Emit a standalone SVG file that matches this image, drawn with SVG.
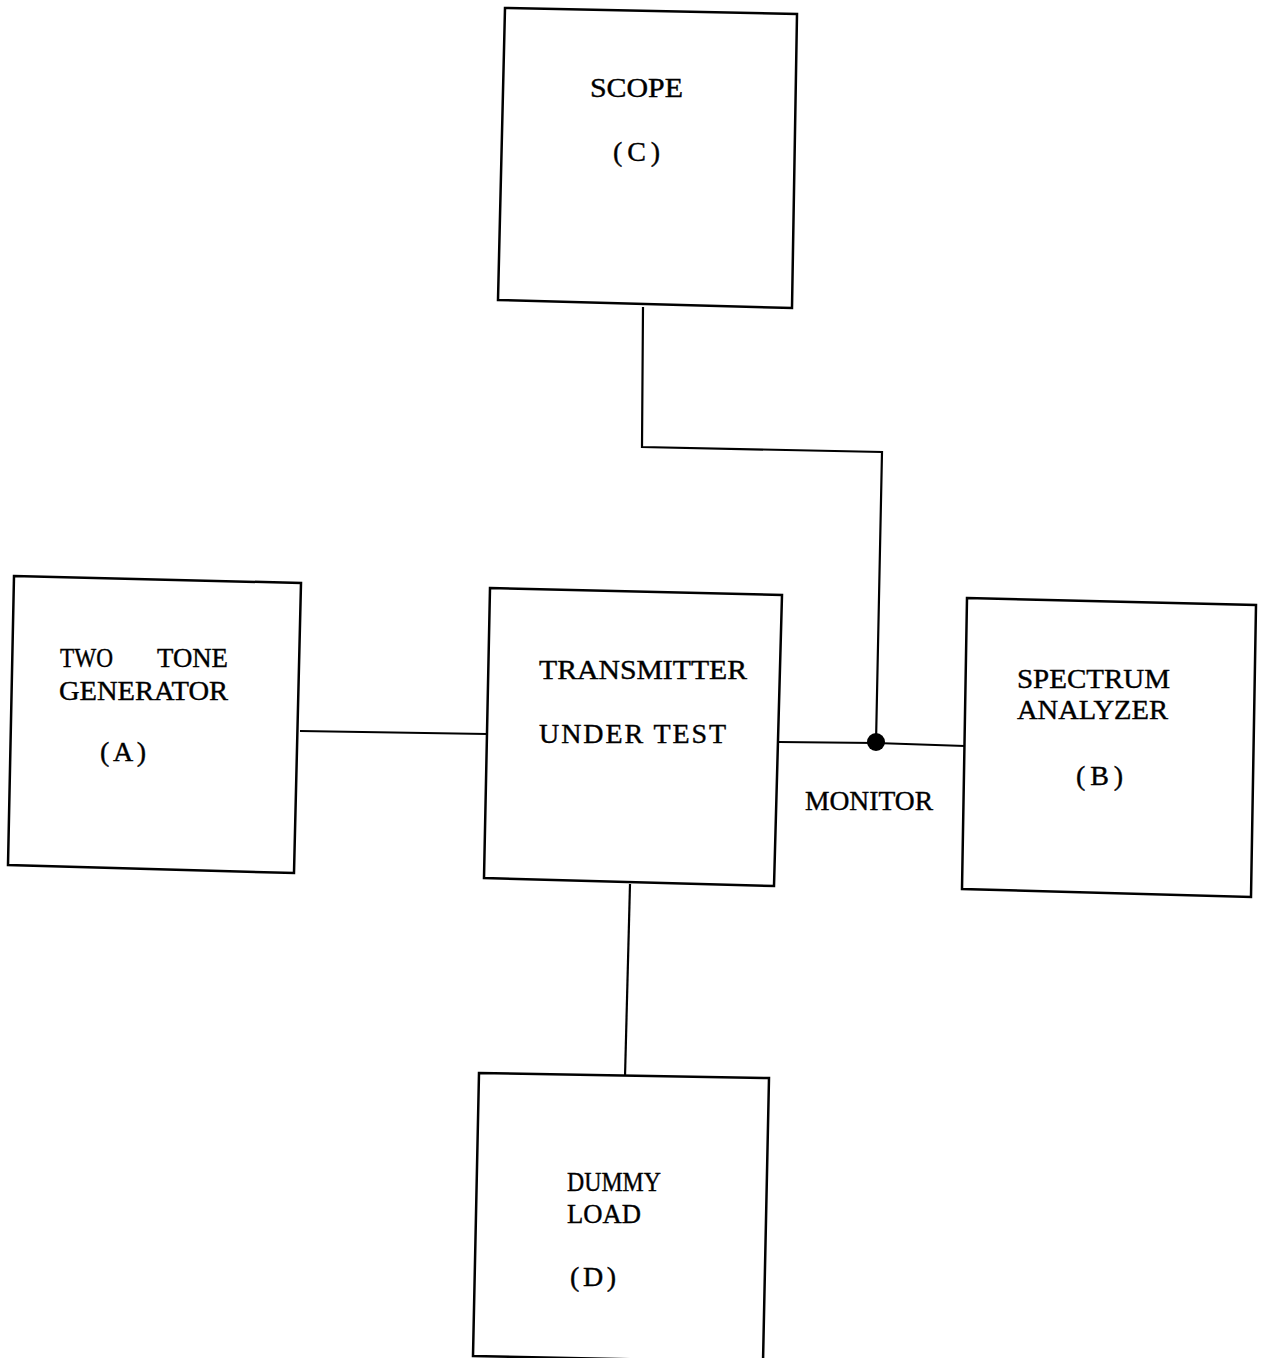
<svg xmlns="http://www.w3.org/2000/svg" width="1264" height="1358" viewBox="0 0 1264 1358">
<style>
.box{fill:#fff;stroke:#000;stroke-width:2.5;stroke-linejoin:miter}
.wire{fill:none;stroke:#000;stroke-width:2.2}
text{font-family:"Liberation Serif","DejaVu Serif",serif;font-size:28px;fill:#000;stroke:#000;stroke-width:0.4}
</style>
<rect width="1264" height="1358" fill="#fff"/>
<g id="connectors">
<path class="wire" d="M300,731 L487,734"/>
<path class="wire" d="M779,742 L876,743 L965,746"/>
<path class="wire" d="M643,307 L642,447 L882,452 L876,743"/>
<path class="wire" d="M630,884 L625,1077"/>
<circle cx="876" cy="742" r="9" fill="#000"/>
<text x="805" y="810" textLength="128" lengthAdjust="spacingAndGlyphs">MONITOR</text>
</g>
<g id="scope">
<polygon class="box" points="505,8 797,14 792,308 498,300"/>
<text x="590" y="97" textLength="93" lengthAdjust="spacingAndGlyphs">SCOPE</text>
<text x="613" y="161" textLength="47" lengthAdjust="spacing">(C)</text>
</g>
<g id="generator">
<polygon class="box" points="14,576 301,583 294,873 8,865"/>
<text x="60" y="667"><tspan x="60" textLength="53" lengthAdjust="spacingAndGlyphs">TWO</tspan><tspan x="157" textLength="71" lengthAdjust="spacingAndGlyphs">TONE</tspan></text>
<text x="59" y="700" textLength="169" lengthAdjust="spacingAndGlyphs">GENERATOR</text>
<text x="100" y="761" textLength="46" lengthAdjust="spacing">(A)</text>
</g>
<g id="transmitter">
<polygon class="box" points="490,588 782,595 774,886 484,878"/>
<text x="539" y="679" textLength="208" lengthAdjust="spacingAndGlyphs">TRANSMITTER</text>
<text x="539" y="743" textLength="187" lengthAdjust="spacing">UNDER TEST</text>
</g>
<g id="analyzer">
<polygon class="box" points="967,598 1256,605 1251,897 962,889"/>
<text x="1017" y="688" textLength="153" lengthAdjust="spacingAndGlyphs">SPECTRUM</text>
<text x="1017" y="719" textLength="151" lengthAdjust="spacingAndGlyphs">ANALYZER</text>
<text x="1076" y="785" textLength="47" lengthAdjust="spacing">(B)</text>
</g>
<g id="dummy">
<polygon class="box" points="479,1073 769,1078 763,1362 473,1356"/>
<text x="567" y="1191" textLength="94" lengthAdjust="spacingAndGlyphs">DUMMY</text>
<text x="567" y="1223" textLength="74" lengthAdjust="spacingAndGlyphs">LOAD</text>
<text x="570" y="1286" textLength="46" lengthAdjust="spacing">(D)</text>
</g>
</svg>
